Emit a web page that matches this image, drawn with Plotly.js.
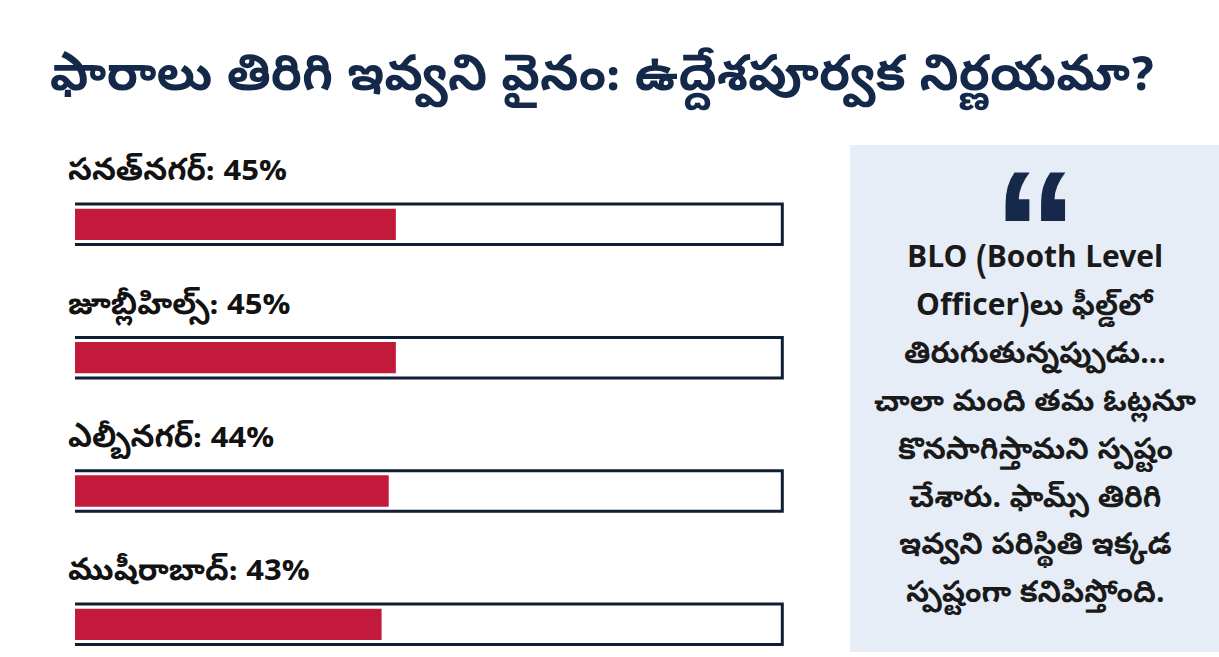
<!DOCTYPE html>
<html>
<head>
<meta charset="utf-8">
<script src="https://cdn.plot.ly/plotly-3.0.1.min.js"></script>
<style>html,body{margin:0;padding:0;background:#fff;}#chart{width:1219px;height:657px;}</style>
</head>
<body>
<div id="chart"></div>
<script>
const titleText = "ఫారాలు తిరిగి ఇవ్వని వైనం: ఉద్దేశపూర్వక నిర్ణయమా?";
const categories = ["సనత్‌నగర్", "జూబ్లీహిల్స్", "ఎల్బీనగర్", "ముషీరాబాద్"];
const values = [45, 45, 44, 43];
const quoteMark = "“";
const quoteLines = [
  "BLO (Booth Level",
  "Officer)లు ఫీల్డ్‌లో",
  "తిరుగుతున్నప్పుడు...",
  "చాలా మంది తమ ఓట్లనూ",
  "కొనసాగిస్తామని స్పష్టం",
  "చేశారు. ఫామ్స్ తిరిగి",
  "ఇవ్వని పరిస్థితి ఇక్కడ",
  "స్పష్టంగా కనిపిస్తోంది."
];

const W = 1219, H = 657;
const FONT = "'Noto Sans Telugu', 'Noto Sans', 'Liberation Sans', sans-serif";
const yIdx = categories.map((c, i) => i);

const shapes = [];
const annotations = [];

// quote box background
shapes.push({type: 'rect', xref: 'paper', yref: 'paper', x0: 850/W, x1: 1.0, y0: -0.002, y1: 1.012,
  fillcolor: '#e6edf6', line: {width: 0}, layer: 'below'});

// track outlines
categories.forEach((c, i) => {
  shapes.push({type: 'rect', xref: 'x', yref: 'y', x0: -0.6, x1: 99.2, y0: i - 0.152, y1: i + 0.152,
    fillcolor: '#ffffff', line: {color: '#0f1e35', width: 3}, layer: 'below'});
  annotations.push({xref: 'paper', yref: 'y', x: 66/W, y: i - 0.375, xanchor: 'left', yanchor: 'middle',
    text: '<b>' + c + ': ' + values[i] + '%</b>', showarrow: false,
    font: {family: FONT, size: 31, color: '#121212'}});
});

annotations.push({xref: 'paper', yref: 'paper', x: 1035/W, y: 1 - (134-151)/500, xanchor: 'center', yanchor: 'top',
  text: '<b>' + quoteMark + '</b>', showarrow: false, height: 85, valign: 'top',
  font: {family: "'Liberation Sans', Arial, sans-serif", size: 170, color: '#16294a'}});

quoteLines.forEach((t, k) => {
  const py = 261 + k * 47.9;
  annotations.push({xref: 'paper', yref: 'paper', x: 1035/W, y: 1 - (py - 151)/500, xanchor: 'center', yanchor: 'middle',
    text: '<b>' + t + '</b>', showarrow: false,
    font: {family: FONT, size: 30, color: '#1a1a1a'}});
});

const trace = {
  type: 'bar', orientation: 'h', x: values, y: yIdx, width: 0.235,
  marker: {color: '#c3193b', line: {width: 0}},
  hoverinfo: 'skip'
};

const layout = {
  width: W, height: H,
  margin: {l: 0, r: 0, t: 151, b: 6},
  paper_bgcolor: '#ffffff', plot_bgcolor: 'rgba(0,0,0,0)',
  showlegend: false,
  title: {text: '<b>' + titleText + '</b>', x: 602/W, xanchor: 'center', y: 1 - 72/H, yanchor: 'middle',
    font: {family: FONT, size: 50, color: '#14294a'}},
  xaxis: {domain: [75/W, 788/W], range: [0, 100], showgrid: false, zeroline: false, showticklabels: false, showline: false, fixedrange: true},
  yaxis: {range: [3.2, -0.55], showgrid: false, zeroline: false, showticklabels: false, showline: false, fixedrange: true},
  shapes: shapes,
  annotations: annotations
};

Plotly.newPlot('chart', [trace], layout, {displayModeBar: false, staticPlot: true});
</script>
</body>
</html>
